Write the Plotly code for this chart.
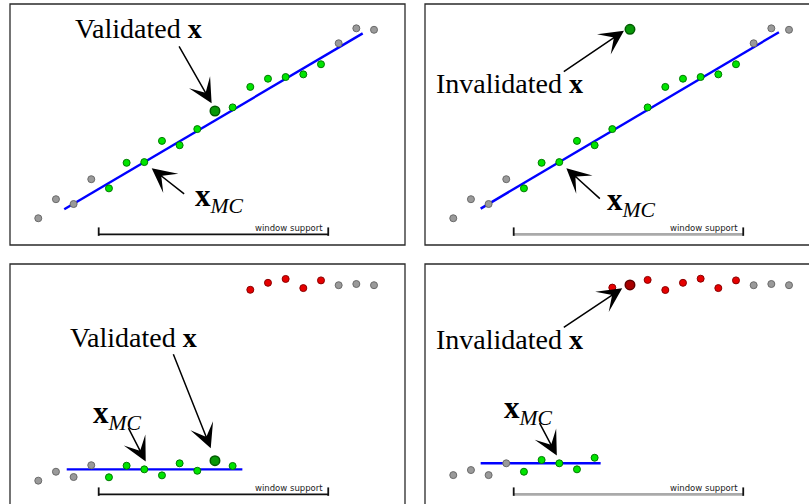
import plotly.graph_objects as go

# ---------------- data ----------------
idx = list(range(20))

# panel values (index -> value)
vals_p1 = [1.11, 1.90, 1.70, 2.73, 2.35, 3.41, 3.44, 4.32, 4.14, 4.81,
           5.56, 5.71, 6.56, 6.90, 6.97, 7.08, 7.50, 8.37, 8.99, 8.93]
vals_p2 = [1.11, 1.90, 1.70, 2.73, 2.35, 3.41, 3.44, 4.32, 4.14, 4.81,
           8.95, 5.71, 6.56, 6.90, 6.97, 7.08, 7.50, 8.37, 8.99, 8.93]
vals_p3 = [1.01, 1.38, 1.16, 1.65, 1.15, 1.63, 1.48, 1.23, 1.73, 1.42,
           1.84, 1.62, 8.93, 9.22, 9.38, 9.00, 9.32, 9.12, 9.17, 9.12]
vals_p4 = [1.24, 1.45, 1.24, 1.73, 1.38, 1.87, 1.73, 1.48, 1.96, 9.02,
           9.13, 9.34, 8.92, 9.22, 9.39, 9.00, 9.32, 9.12, 9.17, 9.12]

# status of every point: o = outside window, g = inlier, G = tested x (inlier),
# r = outlier, R = tested x (outlier)
status_p1 = ["o"] * 4 + ["g"] * 6 + ["G"] + ["g"] * 6 + ["o"] * 3
status_p2 = ["o"] * 4 + ["g"] * 6 + ["G"] + ["g"] * 6 + ["o"] * 3
status_p3 = ["o"] * 4 + ["g"] * 6 + ["G"] + ["g"] + ["r"] * 5 + ["o"] * 3
status_p4 = ["o"] * 4 + ["g"] * 5 + ["r"] + ["R"] + ["r"] * 6 + ["o"] * 3

# fitted local models (x_MC lines): [start, end] index and value
fit_x_p1 = [1.47, 18.36]
fit_y_p1 = [1.48, 8.78]
fit_x_p2 = [1.55, 18.43]
fit_y_p2 = [1.51, 8.83]
fit_x_p3 = [1.61, 11.55]
fit_y_p3 = [1.48, 1.48]
fit_x_p4 = [1.55, 8.34]
fit_y_p4 = [1.73, 1.73]

window = [3.42, 16.41]
window_label = "window support"

# ---------------- styles ----------------
STY = {
    "o": dict(color="#9a9a9a", line=dict(color="#6a6a6a", width=1), size=7),
    "g": dict(color="#00e400", line=dict(color="#007a00", width=1), size=7),
    "G": dict(color="#089808", line=dict(color="#005a00", width=1.5), size=9.5),
    "r": dict(color="#e60000", line=dict(color="#8a0000", width=1), size=7),
    "R": dict(color="#a80000", line=dict(color="#600000", width=1.5), size=9.5),
}

W, H = 809, 504
PXU = 17.67   # px per index unit
YPX = 24.1    # px per value unit

fig = go.Figure()

panels = [
    dict(n="", vals=vals_p1, st=status_p1, fx=fit_x_p1, fy=fit_y_p1, left=10, top=4, gray_bracket=False),
    dict(n="2", vals=vals_p2, st=status_p2, fx=fit_x_p2, fy=fit_y_p2, left=425, top=4, gray_bracket=True),
    dict(n="3", vals=vals_p3, st=status_p3, fx=fit_x_p3, fy=fit_y_p3, left=10, top=264, gray_bracket=False),
    dict(n="4", vals=vals_p4, st=status_p4, fx=fit_x_p4, fy=fit_y_p4, left=425, top=264, gray_bracket=True),
]

PW, PH = 395, 241
X0 = -1.60  # index at panel left border

shapes = []
for p in panels:
    xa, ya = "x" + p["n"], "y" + p["n"]
    left, top = p["left"], p["top"]
    right, bottom = left + PW, top + PH
    r_vis = min(right, W)
    b_vis = min(bottom, H)
    xr = [X0, X0 + (r_vis - left) / PXU]
    yr = [(bottom - b_vis) / YPX, PH / YPX]
    fig.update_layout(**{
        "xaxis" + p["n"]: dict(domain=[left / W, r_vis / W], range=xr, visible=False, fixedrange=True,
                               anchor=ya),
        "yaxis" + p["n"]: dict(domain=[1 - b_vis / H, 1 - top / H], range=yr, visible=False, fixedrange=True,
                               anchor=xa),
    })
    shapes.append(dict(type="rect", xref="paper", yref="paper",
                       x0=left / W, x1=right / W, y0=1 - bottom / H, y1=1 - top / H,
                       line=dict(color="#2a2a2a", width=1.3), fillcolor="rgba(0,0,0,0)"))

    # window bracket
    base, tick_lo, tick_hi = 0.44, 0.38, 0.73
    fig.add_trace(go.Scatter(x=window, y=[base, base], mode="lines", xaxis=xa, yaxis=ya,
                             line=dict(color="#aaaaaa" if p["gray_bracket"] else "#111111",
                                       width=2.6 if p["gray_bracket"] else 1.6),
                             hoverinfo="skip", showlegend=False))
    fig.add_trace(go.Scatter(x=[window[0], window[0], None, window[1], window[1]],
                             y=[tick_lo, tick_hi, None, tick_lo, tick_hi], mode="lines",
                             xaxis=xa, yaxis=ya, line=dict(color="#111111", width=1.8),
                             hoverinfo="skip", showlegend=False))
    fig.add_annotation(x=window[1] - 0.2, y=0.70, xref=xa, yref=ya, text=window_label,
                       showarrow=False, xanchor="right", yanchor="middle",
                       font=dict(family="DejaVu Sans", size=8.5, color="#222222"))

    # fit line
    fig.add_trace(go.Scatter(x=p["fx"], y=p["fy"], mode="lines", xaxis=xa, yaxis=ya,
                             line=dict(color="#0000ff", width=2.4), hoverinfo="skip", showlegend=False))
    # points
    for s in ["o", "g", "r", "G", "R"]:
        xs = [i for i, st in zip(idx, p["st"]) if st == s]
        ys = [v for v, st in zip(p["vals"], p["st"]) if st == s]
        if not xs:
            continue
        fig.add_trace(go.Scatter(x=xs, y=ys, mode="markers", xaxis=xa, yaxis=ya,
                                 marker=STY[s], hoverinfo="skip", showlegend=False, cliponaxis=False))

SERIF = "Liberation Serif"
XMC = "<b>x</b><sub><i>MC</i></sub>"

def label(text, x, y, xa, ya, anchor="center", size=28):
    fig.add_annotation(x=x, y=y, xref=xa, yref=ya, text=text, showarrow=False,
                       xanchor=anchor, yanchor="middle",
                       font=dict(family=SERIF, size=size, color="black"))

def arrow(tail, tip, xa, ya):
    fig.add_annotation(x=tip[0], y=tip[1], ax=tail[0], ay=tail[1], xref=xa, yref=ya,
                       axref=xa, ayref=ya, text="", showarrow=True, arrowhead=3,
                       arrowsize=2.7, arrowwidth=1.5, arrowcolor="black")

# panel 1
label("Validated <b>x</b>", 5.67, 9.0, "x", "y")
arrow((7.92, 8.30), (9.81, 5.88), "x", "y")
label(XMC, 8.74, 1.96, "x", "y", anchor="left", size=31)
arrow((8.34, 2.07), (6.42, 3.18), "x", "y")
# panel 2
label("Invalidated <b>x</b>", 3.21, 6.71, "x2", "y2")
arrow((6.17, 7.15), (9.66, 8.89), "x2", "y2")
label(XMC, 8.56, 1.80, "x2", "y2", anchor="left", size=31)
arrow((8.38, 1.87), (6.40, 3.18), "x2", "y2")
# panel 3
label("Validated <b>x</b>", 5.38, 6.97, "x3", "y3")
arrow((7.61, 6.32), (9.76, 2.35), "x3", "y3")
label(XMC, 2.97, 3.73, "x3", "y3", anchor="left", size=31)
arrow((5.06, 3.25), (6.08, 1.80), "x3", "y3")
# panel 4
label("Invalidated <b>x</b>", 3.21, 6.85, "x4", "y4")
arrow((6.17, 7.33), (9.56, 8.99), "x4", "y4")
label(XMC, 2.77, 3.94, "x4", "y4", anchor="left", size=31)
arrow((4.84, 3.46), (5.86, 2.05), "x4", "y4")

fig.update_layout(width=W, height=H, margin=dict(l=0, r=0, t=0, b=0),
                  paper_bgcolor="white", plot_bgcolor="white", shapes=shapes,
                  showlegend=False)

fig.write_html("out.html", config={"displayModeBar": False},
               post_script="document.body.style.margin='0';document.body.style.padding='0';")
